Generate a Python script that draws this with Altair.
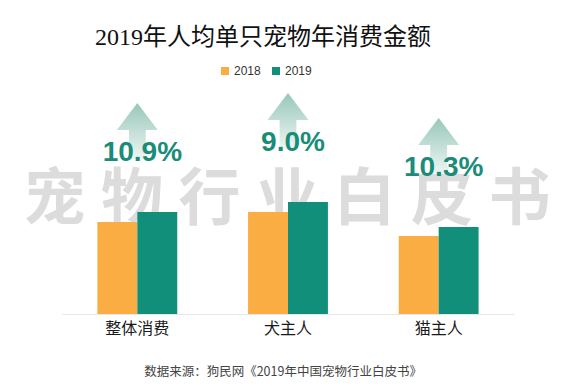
import altair as alt
import pandas as pd

# ---- data (bar heights, arbitrary units; no value axis shown)
categories = ["整体消费", "犬主人", "猫主人"]
years = ["2018", "2019"]
values_2018 = [92, 102, 78]
values_2019 = [102, 112, 87]
growth_labels = ["10.9%", "9.0%", "10.3%"]

title_text = "2019年人均单只宠物年消费金额"
source_text = "数据来源：狗民网《2019年中国宠物行业白皮书》"
watermark_text = "宠物行业白皮书"

bar_colors = ["#F9AD43", "#118F7B"]

bars_df = pd.DataFrame({
    "category": categories * 2,
    "year": [years[0]] * len(categories) + [years[1]] * len(categories),
    "value": values_2018 + values_2019,
})
growth_df = pd.DataFrame({
    "category": categories,
    "value": values_2019,
    "growth": growth_labels,
})
watermark_df = pd.DataFrame({"t": ["\u2005".join(watermark_text)]})
source_df = pd.DataFrame({"t": [source_text]})

W, H = 452, 254

x_enc = alt.X(
    "category:N",
    sort=categories,
    scale=alt.Scale(paddingInner=0.47, paddingOuter=0.235),
    axis=alt.Axis(
        title=None, labelAngle=0, ticks=False, grid=False,
        domainColor="#e6e6e6", domainWidth=1,
        labelFont="Noto Sans CJK SC", labelFontSize=16, labelColor="#1a1a1a",
        labelPadding=6,
    ),
)
y_enc = alt.Y("value:Q", scale=alt.Scale(domain=[0, H]), axis=None)

watermark = alt.Chart(watermark_df).mark_text(
    font="Noto Sans CJK SC", fontSize=62, fontWeight="bold", color="#dcdcdc",
    align="center", baseline="middle",
).encode(text="t:N", x=alt.value(225), y=alt.value(141))

bars = alt.Chart(bars_df).mark_bar().encode(
    x=x_enc,
    xOffset=alt.XOffset("year:N", sort=years, scale=alt.Scale(paddingInner=0, paddingOuter=0)),
    y=y_enc,
    color=alt.Color(
        "year:N",
        scale=alt.Scale(domain=years, range=bar_colors),
        legend=alt.Legend(
            title=None, orient="none", direction="horizontal",
            legendX=157, legendY=5,
            symbolType="square", symbolSize=64, symbolStrokeWidth=0,
            labelFont="Liberation Sans", labelFontSize=12, labelColor="#333333",
            labelOffset=3, columnPadding=9,
        ),
    ),
)

arrow_path = "M0,-1 L0.73,-0.04 L0.3,-0.04 L0.3,1 L-0.3,1 L-0.3,-0.04 L-0.73,-0.04 Z"
arrows = alt.Chart(growth_df).mark_point(
    shape=arrow_path, size=3136, filled=True, strokeWidth=0, opacity=1,
    yOffset=-81,
    fill=alt.Gradient(
        gradient="linear", x1=0, y1=0, x2=0, y2=1,
        stops=[alt.GradientStop(color="#98c7ba", offset=0),
               alt.GradientStop(color="#eef6f3", offset=1)],
    ),
).encode(x=alt.X("category:N", sort=categories), y=y_enc)

labels = alt.Chart(growth_df).mark_text(
    font="Liberation Sans", fontSize=28, fontWeight="bold", color="#1A8C78",
    align="center", baseline="alphabetic", dy=-51, dx=5,
).encode(x=alt.X("category:N", sort=categories), y=y_enc, text="growth:N")

source = alt.Chart(source_df).mark_text(
    font="Noto Sans CJK SC", fontSize=12.5, color="#444444",
    align="center", baseline="middle",
).encode(text="t:N", x=alt.value(221), y=alt.value(312))

chart = alt.layer(watermark, bars, arrows, labels, source).properties(
    width=W, height=H,
    background="white",
    autosize=alt.AutoSizeParams(type="none"),
    padding={"left": 54, "top": 52, "right": 49, "bottom": 66},
    title=alt.TitleParams(
        text=title_text, font="Liberation Serif, Noto Sans CJK SC", fontSize=24,
        fontWeight="normal", color="#111111", anchor="middle", dx=-25, dy=22,
        baseline="alphabetic", offset=13,
    ),
).configure_view(stroke="transparent", strokeWidth=0)

chart.save("out.html", embed_options={"renderer": "svg", "actions": False})
